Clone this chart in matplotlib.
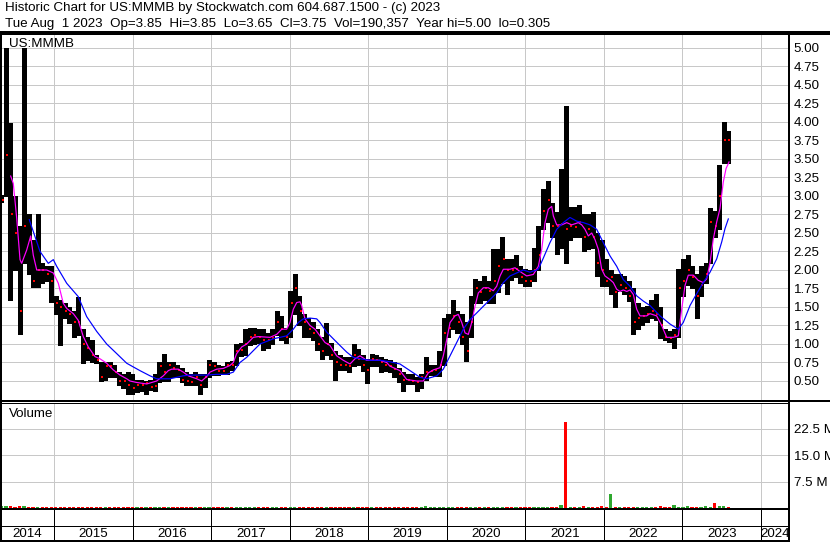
import numpy as np
import pandas as pd
import matplotlib
matplotlib.use("Agg")
import matplotlib.pyplot as plt
import matplotlib.transforms as mtransforms
from matplotlib.ticker import FixedLocator, NullFormatter

plt.rcParams['font.family'] = ['Liberation Sans', 'DejaVu Sans']

# ---------------- data ----------------
dates = pd.date_range(end='2023-08-01', periods=162, freq='21D')

high = [3.02, 5.00, 3.98, 3.00, 2.60, 5.00, 2.75, 2.40, 2.75, 2.10,
        2.05, 2.05, 1.65, 1.60, 1.55, 1.50, 1.45, 1.64, 1.20, 1.10,
        1.05, 0.85, 0.75, 0.75, 0.76, 0.72, 0.62, 0.60, 0.62, 0.60,
        0.52, 0.52, 0.50, 0.52, 0.60, 0.75, 0.86, 0.76, 0.75, 0.72,
        0.68, 0.62, 0.60, 0.62, 0.60, 0.60, 0.78, 0.76, 0.72, 0.70,
        0.76, 0.77, 1.00, 1.02, 1.20, 1.21, 1.22, 1.20, 1.20, 1.15,
        1.20, 1.45, 1.38, 1.22, 1.72, 1.95, 1.65, 1.40, 1.35, 1.30,
        1.20, 1.10, 1.28, 1.02, 0.90, 0.85, 0.82, 0.82, 1.00, 0.93,
        0.85, 0.80, 0.86, 0.85, 0.82, 0.80, 0.78, 0.75, 0.68, 0.62,
        0.60, 0.60, 0.55, 0.60, 0.82, 0.72, 0.72, 0.90, 1.35, 1.40,
        1.60, 1.45, 1.40, 1.30, 1.65, 1.88, 1.85, 1.92, 1.85, 2.28,
        2.28, 2.44, 2.15, 2.15, 2.20, 2.05, 2.02, 2.00, 2.30, 2.60,
        3.10, 3.20, 2.90, 2.78, 3.36, 4.22, 2.85, 2.85, 2.88, 2.75,
        2.75, 2.78, 2.50, 2.40, 2.15, 2.00, 1.95, 1.95, 1.92, 1.85,
        1.75, 1.55, 1.50, 1.52, 1.60, 1.68, 1.50, 1.20, 1.18, 1.20,
        2.02, 2.15, 2.20, 2.05, 1.95, 2.05, 2.10, 2.84, 2.80, 3.42,
        4.00, 3.88]

low = [2.92, 3.00, 1.60, 2.00, 1.14, 2.10, 1.95, 1.77, 1.77, 1.82,
       1.85, 1.57, 1.40, 0.99, 1.35, 1.28, 1.10, 1.12, 0.74, 0.78,
       0.75, 0.74, 0.50, 0.52, 0.55, 0.55, 0.45, 0.40, 0.32, 0.32,
       0.35, 0.36, 0.32, 0.38, 0.37, 0.48, 0.50, 0.50, 0.56, 0.55,
       0.48, 0.44, 0.45, 0.44, 0.33, 0.42, 0.55, 0.58, 0.58, 0.60,
       0.60, 0.65, 0.72, 0.84, 0.85, 0.98, 1.00, 1.02, 0.92, 0.95,
       1.00, 1.12, 1.05, 1.02, 1.10, 1.40, 1.25, 1.10, 1.10, 1.05,
       0.92, 0.80, 0.85, 0.80, 0.52, 0.65, 0.65, 0.62, 0.70, 0.72,
       0.64, 0.47, 0.70, 0.70, 0.62, 0.64, 0.62, 0.55, 0.48, 0.36,
       0.46, 0.46, 0.37, 0.40, 0.52, 0.58, 0.57, 0.57, 0.72, 1.10,
       1.20, 1.15, 1.00, 0.77, 1.10, 1.55, 1.55, 1.60, 1.55, 1.55,
       1.70, 1.82, 1.68, 1.87, 1.90, 1.83, 1.78, 1.78, 1.85, 2.00,
       2.55, 2.65, 2.45, 2.21, 2.30, 2.10, 2.40, 2.45, 2.45, 2.25,
       2.28, 2.30, 1.92, 1.78, 1.78, 1.68, 1.50, 1.72, 1.68, 1.58,
       1.13, 1.20, 1.25, 1.30, 1.35, 1.33, 1.08, 1.05, 1.03, 0.95,
       1.10, 1.65, 1.80, 1.75, 1.35, 1.65, 1.82, 2.10, 2.45, 2.55,
       3.45, 3.45]

close = [2.95, 3.55, 2.75, 2.50, 1.45, 2.60, 2.40, 1.85, 2.00, 2.00,
         1.95, 1.85, 1.55, 1.50, 1.45, 1.40, 1.30, 1.30, 1.00, 0.95,
         0.85, 0.78, 0.55, 0.70, 0.70, 0.62, 0.50, 0.50, 0.45, 0.40,
         0.45, 0.45, 0.47, 0.42, 0.43, 0.70, 0.62, 0.72, 0.68, 0.65,
         0.52, 0.50, 0.48, 0.55, 0.45, 0.55, 0.72, 0.70, 0.64, 0.64,
         0.72, 0.72, 0.90, 0.92, 1.00, 1.10, 1.12, 1.10, 1.05, 1.05,
         1.08, 1.30, 1.20, 1.10, 1.55, 1.75, 1.45, 1.30, 1.20, 1.15,
         1.00, 0.90, 1.00, 0.85, 0.75, 0.72, 0.72, 0.70, 0.85, 0.80,
         0.72, 0.65, 0.80, 0.78, 0.75, 0.72, 0.70, 0.66, 0.60, 0.52,
         0.52, 0.50, 0.48, 0.55, 0.62, 0.64, 0.65, 0.72, 1.15, 1.22,
         1.38, 1.30, 1.10, 0.90, 1.30, 1.75, 1.70, 1.75, 1.72, 1.85,
         2.05, 2.15, 2.00, 2.00, 2.02, 1.90, 1.85, 1.85, 2.00, 2.20,
         2.80, 2.95, 2.60, 2.60, 2.62, 2.55, 2.60, 2.58, 2.65, 2.45,
         2.55, 2.45, 2.10, 2.00, 1.85, 1.90, 1.70, 1.80, 1.75, 1.65,
         1.30, 1.35, 1.38, 1.40, 1.45, 1.40, 1.25, 1.10, 1.08, 1.12,
         1.75, 1.85, 2.00, 1.90, 1.65, 1.80, 1.95, 2.65, 2.60, 3.00,
         3.75, 3.75]

volume_m = [0.5, 0.6, 0.5, 0.4, 0.5, 0.6, 0.4, 0.4, 0.4, 0.3,
            0.3, 0.3, 0.3, 0.4, 0.3, 0.3, 0.3, 0.3, 0.4, 0.3,
            0.3, 0.3, 0.3, 0.3, 0.3, 0.3, 0.3, 0.3, 0.3, 0.3,
            0.3, 0.3, 0.3, 0.3, 0.3, 0.4, 0.3, 0.3, 0.3, 0.3,
            0.3, 0.3, 0.3, 0.3, 0.3, 0.3, 0.3, 0.3, 0.3, 0.3,
            0.3, 0.3, 0.4, 0.3, 0.4, 0.3, 0.3, 0.3, 0.3, 0.3,
            0.3, 0.3, 0.3, 0.3, 0.4, 0.4, 0.3, 0.3, 0.3, 0.3,
            0.3, 0.3, 0.3, 0.3, 0.3, 0.3, 0.3, 0.3, 0.3, 0.3,
            0.3, 0.3, 0.3, 0.3, 0.3, 0.3, 0.3, 0.3, 0.3, 0.3,
            0.3, 0.3, 0.3, 0.3, 0.6, 0.3, 0.3, 0.3, 0.4, 0.3,
            0.4, 0.3, 0.3, 0.3, 0.3, 0.4, 0.3, 0.3, 0.3, 0.3,
            0.3, 0.4, 0.3, 0.3, 0.3, 0.3, 0.3, 0.3, 0.3, 0.3,
            0.4, 0.4, 0.3, 0.3, 0.8, 24.5, 0.4, 0.3, 0.3, 0.6,
            0.3, 0.3, 0.3, 0.6, 0.4, 3.9, 0.3, 0.3, 0.3, 0.3,
            0.3, 0.3, 0.3, 0.3, 0.3, 0.3, 0.6, 0.3, 0.3, 0.9,
            0.4, 0.4, 0.7, 0.3, 0.3, 0.3, 0.6, 0.4, 1.3, 0.6,
            0.5, 0.4]

# short moving average (magenta)
ma_fast_t = [2014.442, 2014.475, 2014.519, 2014.561, 2014.582, 2014.646, 2014.697, 2014.730,
             2014.774, 2014.901, 2014.985, 2015.049, 2015.112, 2015.156, 2015.240, 2015.303,
             2015.367, 2015.431, 2015.516, 2015.580, 2015.665, 2015.749, 2015.835, 2015.920,
             2015.962, 2016.047, 2016.175, 2016.302, 2016.386, 2016.450, 2016.493, 2016.577,
             2016.641, 2016.705, 2016.812, 2016.875, 2016.939, 2016.981, 2017.067, 2017.151,
             2017.236, 2017.278, 2017.321, 2017.385, 2017.449, 2017.533, 2017.597, 2017.745,
             2017.831, 2017.895, 2017.958, 2018.000, 2018.042, 2018.086, 2018.128, 2018.149,
             2018.191, 2018.255, 2018.319, 2018.383, 2018.446, 2018.510, 2018.595, 2018.679,
             2018.765, 2018.828, 2018.892, 2018.977, 2019.062, 2019.147, 2019.232, 2019.274,
             2019.338, 2019.401, 2019.487, 2019.614, 2019.698, 2019.762, 2019.826, 2019.911,
             2019.953, 2019.997, 2020.039, 2020.102, 2020.144, 2020.188, 2020.230, 2020.272,
             2020.315, 2020.357, 2020.399, 2020.463, 2020.527, 2020.590, 2020.633, 2020.676,
             2020.718, 2020.803, 2020.867, 2020.930, 2021.015, 2021.100, 2021.164, 2021.207,
             2021.249, 2021.291, 2021.334, 2021.355, 2021.398, 2021.462, 2021.526, 2021.589,
             2021.673, 2021.717, 2021.758, 2021.800, 2021.844, 2021.886, 2021.928, 2021.971,
             2022.013, 2022.077, 2022.119, 2022.162, 2022.204, 2022.246, 2022.290, 2022.332,
             2022.374, 2022.417, 2022.459, 2022.544, 2022.586, 2022.671, 2022.735, 2022.799,
             2022.883, 2022.947, 2022.990, 2023.032, 2023.074, 2023.138, 2023.201, 2023.265,
             2023.308, 2023.351, 2023.393, 2023.436, 2023.478, 2023.520, 2023.555, 2023.593]
ma_fast_v = [3.27, 3.17, 2.70, 2.14, 2.09, 2.27, 2.46, 2.20,
             2.00, 2.00, 1.96, 1.82, 1.55, 1.48, 1.41, 1.32,
             1.10, 0.96, 0.83, 0.80, 0.74, 0.65, 0.58, 0.53,
             0.50, 0.48, 0.46, 0.50, 0.57, 0.64, 0.66, 0.66,
             0.62, 0.57, 0.53, 0.50, 0.56, 0.62, 0.66, 0.67,
             0.71, 0.75, 0.87, 0.96, 1.00, 1.09, 1.10, 1.09,
             1.13, 1.20, 1.20, 1.29, 1.47, 1.56, 1.57, 1.52,
             1.34, 1.25, 1.20, 1.11, 1.02, 0.98, 0.84, 0.78,
             0.73, 0.80, 0.84, 0.78, 0.78, 0.78, 0.75, 0.70,
             0.67, 0.64, 0.52, 0.50, 0.50, 0.61, 0.65, 0.68,
             0.84, 1.06, 1.29, 1.38, 1.40, 1.29, 1.15, 1.13,
             1.29, 1.51, 1.69, 1.76, 1.76, 1.72, 1.78, 1.92,
             2.01, 2.01, 2.03, 1.98, 1.92, 1.94, 2.05, 2.28,
             2.64, 2.82, 2.86, 2.73, 2.61, 2.61, 2.64, 2.61,
             2.64, 2.61, 2.55, 2.46, 2.50, 2.41, 2.28, 2.01,
             1.92, 1.87, 1.83, 1.74, 1.71, 1.73, 1.71, 1.73,
             1.67, 1.47, 1.38, 1.38, 1.41, 1.38, 1.25, 1.09,
             1.09, 1.11, 1.47, 1.79, 1.93, 1.93, 1.86, 1.83,
             1.88, 2.10, 2.42, 2.65, 2.83, 3.19, 3.37, 3.46]

# long moving average (blue)
ma_slow_t = [2014.679, 2014.816, 2014.921, 2014.985, 2015.028, 2015.156, 2015.303, 2015.410,
             2015.538, 2015.665, 2015.793, 2015.920, 2016.004, 2016.089, 2016.217, 2016.302,
             2016.472, 2016.641, 2016.726, 2016.939, 2017.067, 2017.194, 2017.278, 2017.363,
             2017.449, 2017.533, 2017.618, 2017.787, 2017.958, 2018.042, 2018.106, 2018.170,
             2018.255, 2018.340, 2018.383, 2018.468, 2018.552, 2018.637, 2018.723, 2018.806,
             2018.892, 2019.019, 2019.147, 2019.274, 2019.401, 2019.529, 2019.656, 2019.742,
             2019.869, 2019.953, 2020.039, 2020.124, 2020.208, 2020.293, 2020.379, 2020.463,
             2020.548, 2020.633, 2020.718, 2020.803, 2020.888, 2020.973, 2021.058, 2021.164,
             2021.227, 2021.312, 2021.398, 2021.482, 2021.567, 2021.653, 2021.737, 2021.822,
             2021.907, 2021.991, 2022.077, 2022.162, 2022.246, 2022.332, 2022.417, 2022.501,
             2022.586, 2022.714, 2022.841, 2022.947, 2023.010, 2023.096, 2023.181, 2023.265,
             2023.351, 2023.436, 2023.500, 2023.542, 2023.584]
ma_slow_v = [2.68, 2.25, 2.09, 2.14, 2.05, 1.82, 1.64, 1.37,
             1.17, 1.00, 0.87, 0.74, 0.69, 0.64, 0.57, 0.53,
             0.53, 0.57, 0.58, 0.58, 0.59, 0.59, 0.62, 0.75,
             0.82, 0.91, 1.00, 1.07, 1.11, 1.20, 1.29, 1.34,
             1.35, 1.34, 1.29, 1.16, 1.07, 0.98, 0.89, 0.82,
             0.80, 0.78, 0.78, 0.76, 0.73, 0.64, 0.55, 0.53,
             0.57, 0.66, 0.84, 1.02, 1.20, 1.33, 1.42, 1.51,
             1.60, 1.69, 1.83, 1.92, 1.96, 2.00, 1.97, 2.01,
             2.16, 2.37, 2.55, 2.64, 2.71, 2.66, 2.64, 2.61,
             2.55, 2.37, 2.19, 2.05, 1.87, 1.78, 1.65, 1.58,
             1.52, 1.38, 1.27, 1.20, 1.29, 1.52, 1.68, 1.83,
             1.97, 2.15, 2.38, 2.56, 2.69]

years = list(range(2014, 2025))
price_ticks = [0.50, 0.75, 1.00, 1.25, 1.50, 1.75, 2.00, 2.25, 2.50, 2.75,
               3.00, 3.25, 3.50, 3.75, 4.00, 4.25, 4.50, 4.75, 5.00]
vol_ticks = [7.5, 15.0, 22.5]

header1 = "Historic Chart for US:MMMB by Stockwatch.com 604.687.1500 - (c) 2023"
header2 = "Tue Aug  1 2023  Op=3.85  Hi=3.85  Lo=3.65  Cl=3.75  Vol=190,357  Year hi=5.00  lo=0.305"
symbol = "US:MMMB"

# ---------------- layout ----------------
W, H, DPI = 830, 543, 100
PX = 72.0 / DPI  # points per pixel
FS = 9.6

def dec_year(d):
    n = 366 if d.is_leap_year else 365
    return d.year + (d.dayofyear - 0.5) / n

t = np.array([dec_year(d) for d in dates])
XMIN, XMAX = 2014.306, 2024.357

def frac(x0, y0, x1, y1):
    return [x0 / W, 1 - y1 / H, (x1 - x0) / W, (y1 - y0) / H]

fig = plt.figure(figsize=(W / DPI, H / DPI), dpi=DPI, facecolor='white')

grid_c = '#c8c8c8'

# price panel
ax = fig.add_axes(frac(0, 33, 789, 400))
ax.set_xlim(XMIN, XMAX)
ax.set_ylim(0.2432, 5.2027)
ax.xaxis.set_major_locator(FixedLocator(years[1:]))
ax.xaxis.set_major_formatter(NullFormatter())
ax.yaxis.set_major_locator(FixedLocator(price_ticks))
ax.set_yticklabels([f"{v:.2f}" for v in price_ticks])
ax.yaxis.tick_right()
ax.tick_params(axis='both', length=0)
ax.tick_params(axis='y', pad=3.5, labelsize=FS)
ax.grid(True, color=grid_c, lw=1 * PX, antialiased=False)
ax.set_axisbelow(True)
for s in ax.spines.values():
    s.set_visible(False)

ax.vlines(t, low, high, color='black', lw=3.1 * PX, antialiased=False, zorder=2)
shift = ax.transData + mtransforms.ScaledTranslation(1.2 / DPI, 0, fig.dpi_scale_trans)
ax.plot(t, close, 's', color='#ff0000', ms=2.8 * PX, mew=0, zorder=3, transform=shift)
ax.plot(ma_fast_t, ma_fast_v, color='#ff00ff', lw=1.2 * PX, zorder=4)
ax.plot(ma_slow_t, ma_slow_v, color='#0000ff', lw=1.2 * PX, zorder=4)
ax.text(9 / 789, 1 - 11 / 367, symbol, transform=ax.transAxes, fontsize=FS,
        va='center', ha='left')

# volume panel
vax = fig.add_axes(frac(0, 403, 789, 508))
vax.set_xlim(XMIN, XMAX)
vax.set_ylim(0, 29.8)
vax.xaxis.set_major_locator(FixedLocator(years[1:]))
vax.xaxis.set_major_formatter(NullFormatter())
vax.yaxis.set_major_locator(FixedLocator(vol_ticks))
vax.set_yticklabels([f"{v:.1f} M" for v in vol_ticks])
vax.yaxis.tick_right()
vax.tick_params(axis='both', length=0)
vax.tick_params(axis='y', pad=3.5, labelsize=FS)
vax.grid(True, color=grid_c, lw=1 * PX, antialiased=False)
vax.set_axisbelow(True)
for s in vax.spines.values():
    s.set_visible(False)
cl = np.array(close)
up = np.concatenate([[True], cl[1:] > cl[:-1]])
vcol = np.where(up, '#2ea82e', '#ff0000')
vax.bar(t, volume_m, width=21 / 365.25 * 0.7, color=vcol, linewidth=0, zorder=2)
vax.text(9 / 789, 1 - 11 / 105, "Volume", transform=vax.transAxes, fontsize=FS,
         va='center', ha='left')

# date strip
dax = fig.add_axes(frac(0, 509, 789, 541))
dax.set_xlim(XMIN, XMAX)
dax.set_ylim(0, 1)
dax.axis('off')
for y in years[1:]:
    dax.axvline(y, color='black', lw=1 * PX, antialiased=False)
for y in years:
    a, b = max(y, XMIN), min(y + 1, XMAX)
    dax.text((a + b) / 2, 0.22, str(y), ha='center', va='center', fontsize=FS)

# frame lines (pixel overlay)
ov = fig.add_axes([0, 0, 1, 1])
ov.set_xlim(0, W)
ov.set_ylim(H, 0)
ov.axis('off')
ov.patch.set_alpha(0)
def hl(y, x0, x1, w):
    ov.plot([x0, x1], [y, y], color='black', lw=w * PX, antialiased=False, solid_capstyle='butt')
def vl(x, y0, y1, w):
    ov.plot([x, x], [y0, y1], color='black', lw=w * PX, antialiased=False, solid_capstyle='butt')
hl(32.5, 0, W, 2.5)
vl(1, 32, 541, 2)
vl(789, 32, 542, 2)
hl(400.5, 0, W, 1.5)
hl(403, 0, 789, 1)
hl(509, 0, 789, 2)
hl(526, 0, 789, 1)
hl(541, 0, 789, 2)
ov.text(5, 8.5, header1, fontsize=FS, va='center', ha='left')
ov.text(5, 23.5, header2, fontsize=FS, va='center', ha='left')

fig.savefig('out.png', dpi=DPI, facecolor='white')
